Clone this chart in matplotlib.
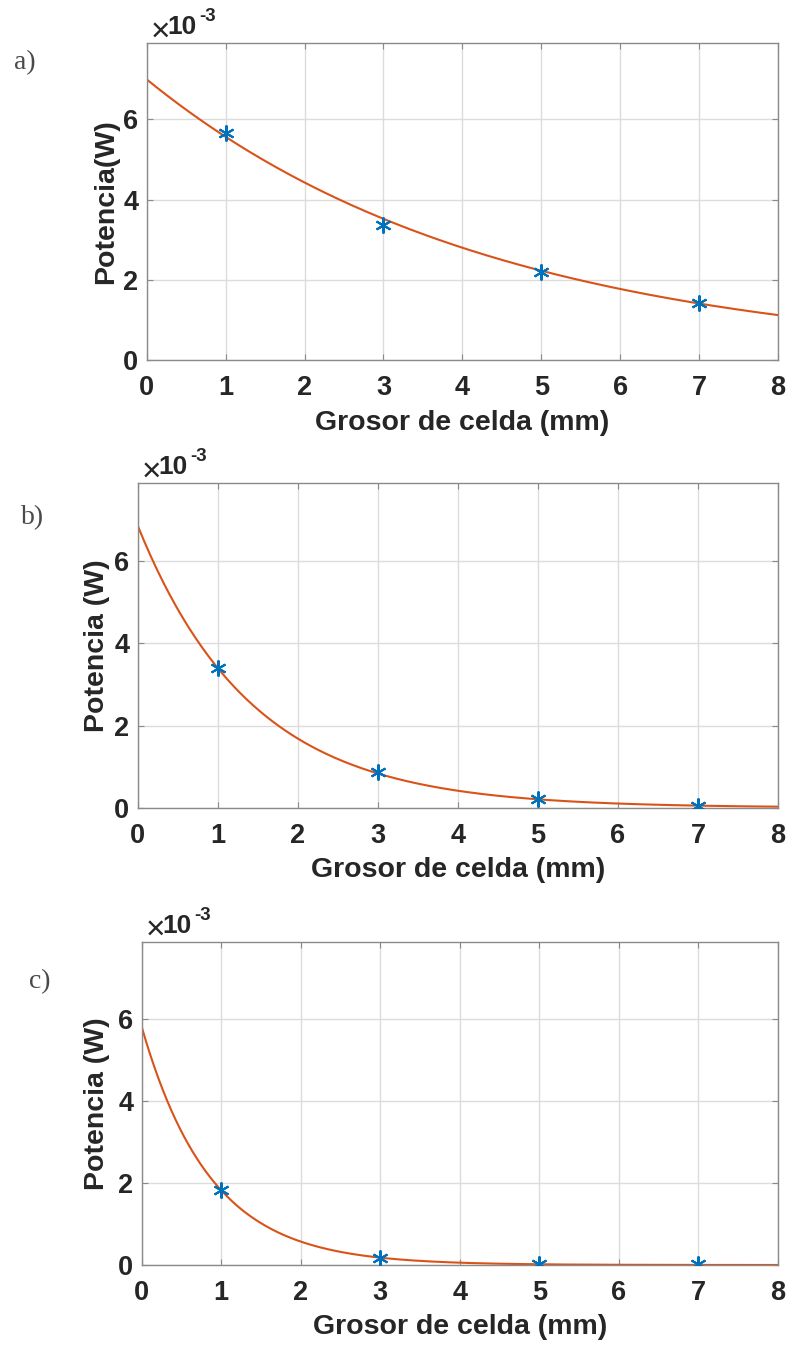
import numpy as np
import matplotlib
matplotlib.use("Agg")
import matplotlib.pyplot as plt
from matplotlib.ticker import FuncFormatter

plt.rcParams['font.family'] = ['Liberation Sans', 'DejaVu Sans']

# datos medidos (grosor en mm, potencia en W)
grosor = [1, 3, 5, 7]
pot_a = [5.65e-3, 3.37e-3, 2.19e-3, 1.41e-3]
pot_b = [3.40e-3, 0.87e-3, 0.21e-3, 0.05e-3]
pot_c = [1.83e-3, 0.17e-3, 0.03e-3, 0.02e-3]

# ajuste exponencial P = A*exp(-k*x)
amp = [7.0e-3, 6.87e-3, 5.82e-3]
decay = [0.229, 0.703, 1.16]

panel_labels = ['a)', 'b)', 'c)']
ylabels = ['Potencia(W)', 'Potencia (W)', 'Potencia (W)']
xlabel = 'Grosor de celda (mm)'

W, H = 795, 1348
fig = plt.figure(figsize=(W / 100, H / 100), dpi=100)

# posiciones de ejes en pixeles: left, top, right, bottom
boxes = [(146.7, 43.3, 778, 360), (137.7, 483.3, 778, 807.7), (141.7, 941.7, 778, 1265)]
ylab_x = [106, 97, 97]
xlab_y = [423, 870, 1327]
plab_xy = [(25, 63), (33, 518), (40, 982)]

series = [pot_a, pot_b, pot_c]
xs = np.linspace(0, 8, 300)

for i in range(3):
    l, t, r, b = boxes[i]
    ax = fig.add_axes([l / W, 1 - b / H, (r - l) / W, (b - t) / H])

    ax.plot(grosor, series[i], linestyle='none', marker=(6, 2, 0), ms=11.5,
            mew=1.5, color='#0072BD', zorder=3)
    ax.plot(xs, amp[i] * np.exp(-decay[i] * xs), color='#D95319', lw=1.5, zorder=2)

    ax.set_xlim(0, 8)
    ax.set_ylim(0, 7.9e-3)
    ax.set_xticks(range(0, 9))
    ax.set_yticks([0, 2e-3, 4e-3, 6e-3])
    ax.yaxis.set_major_formatter(FuncFormatter(lambda v, p: '%d' % round(v * 1e3)))

    ax.grid(True, color='#dcdcdc', lw=1)
    ax.set_axisbelow(True)
    for s in ax.spines.values():
        s.set_color('#8a8a8a')
        s.set_linewidth(1)
    ax.tick_params(direction='in', length=4, color='#8a8a8a', top=True, right=True,
                   labelsize=19.5)
    ax.tick_params(axis='x', pad=11)
    ax.tick_params(axis='y', pad=6)
    for lab in ax.get_xticklabels() + ax.get_yticklabels():
        lab.set_fontweight('bold')
        lab.set_color('#262626')

    ax.set_xlabel(xlabel, fontsize=20.5, fontweight='bold', color='#262626')
    ax.set_ylabel(ylabels[i], fontsize=20.5, fontweight='bold', color='#262626')
    ax.xaxis.set_label_coords(0.5, -(xlab_y[i] - b) / (b - t))
    ax.yaxis.set_label_coords((ylab_x[i] - l) / (r - l), 0.5)
    ax.xaxis.label.set_va('center')
    ax.yaxis.label.set_va('center')

    # factor de escala estilo MATLAB
    ax.annotate('\u00d7', xy=(0, 1), xycoords='axes fraction', xytext=(4, -4),
                textcoords='offset pixels', fontsize=24, color='#262626',
                ha='left', va='bottom')
    ax.annotate('10', xy=(0, 1), xycoords='axes fraction', xytext=(21, 4),
                textcoords='offset pixels', fontsize=19, fontweight='bold',
                color='#262626', ha='left', va='bottom')
    ax.annotate('-3', xy=(0, 1), xycoords='axes fraction', xytext=(53, 18),
                textcoords='offset pixels', fontsize=13.5, fontweight='bold',
                color='#262626', ha='left', va='bottom')

    px, py = plab_xy[i]
    fig.text(px / W, 1 - py / H, panel_labels[i], family='Liberation Serif',
             fontsize=20, color='#4a4a4a', ha='center', va='center')

fig.savefig('out.png', dpi=100)
